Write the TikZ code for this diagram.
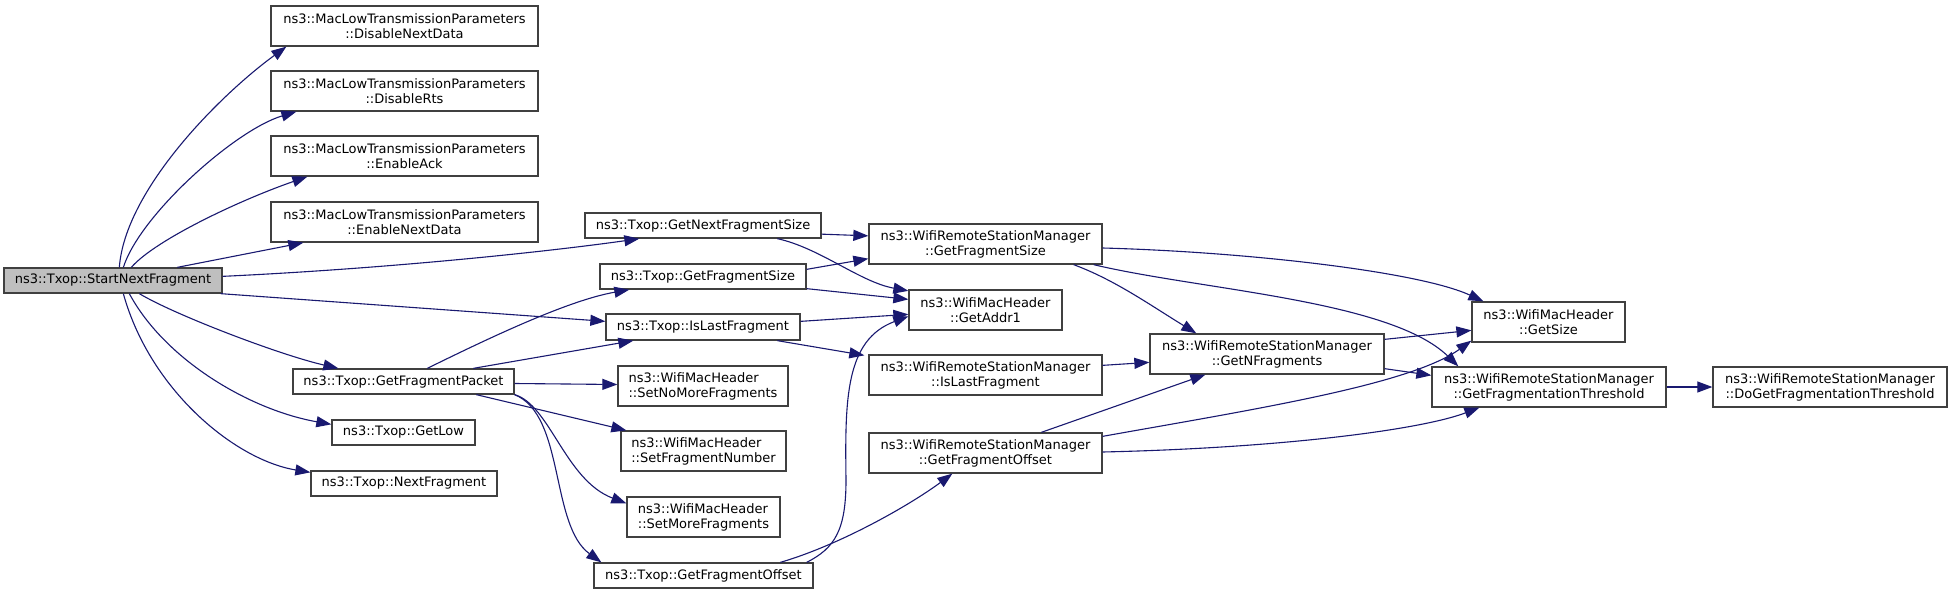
\documentclass[tikz,border=0pt]{standalone}
\usepackage{fontspec}
\setmainfont{DejaVu Sans}
\usetikzlibrary{arrows.meta,calc}
\definecolor{edgeblue}{HTML}{191970}
\definecolor{boxline}{HTML}{404040}
\definecolor{startfill}{HTML}{BFBFBF}
\tikzset{
  box/.style={draw=boxline, line width=1.3pt, fill=white, inner sep=0pt, align=center, font=\fontsize{13}{15}\selectfont},
  lbox/.style={box, align=left},
  call/.style={draw=edgeblue, line width=1.1pt, -{Triangle[length=15pt,width=11pt]}},
}
\begin{document}
\begin{tikzpicture}[x=1pt,y=-1pt]
\fill[white] (0,0) rectangle (1952,594);
\useasboundingbox (0,0) rectangle (1952,594);

% nodes
\node[box, fill=startfill, minimum width=218, minimum height=25] (snf) at (113,280.5) {ns3::Txop::StartNextFragment};
\node[box, minimum width=267, minimum height=40] (dnd) at (404.5,26) {ns3::MacLowTransmissionParameters\\::DisableNextData};
\node[box, minimum width=267, minimum height=40] (drts) at (404.5,91) {ns3::MacLowTransmissionParameters\\::DisableRts};
\node[box, minimum width=267, minimum height=40] (eack) at (404.5,156) {ns3::MacLowTransmissionParameters\\::EnableAck};
\node[box, minimum width=267, minimum height=40] (end) at (404.5,222) {ns3::MacLowTransmissionParameters\\::EnableNextData};
\node[box, minimum width=236, minimum height=25] (gnfs) at (703,225.5) {ns3::Txop::GetNextFragmentSize};
\node[box, minimum width=206, minimum height=25] (gfs) at (703,276.5) {ns3::Txop::GetFragmentSize};
\node[box, minimum width=194, minimum height=26] (ilf) at (703,327) {ns3::Txop::IsLastFragment};
\node[box, minimum width=221, minimum height=25] (gfp) at (403.5,381.5) {ns3::Txop::GetFragmentPacket};
\node[box, minimum width=143, minimum height=25] (glow) at (403.5,432.5) {ns3::Txop::GetLow};
\node[box, minimum width=186, minimum height=25] (nf) at (404,483.5) {ns3::Txop::NextFragment};
\node[lbox, minimum width=170, minimum height=40] (snmf) at (703,386) {ns3::WifiMacHeader\\::SetNoMoreFragments};
\node[lbox, minimum width=165, minimum height=40] (sfn) at (703.5,451) {ns3::WifiMacHeader\\::SetFragmentNumber};
\node[lbox, minimum width=153, minimum height=40] (smf) at (703.5,517) {ns3::WifiMacHeader\\::SetMoreFragments};
\node[box, minimum width=219, minimum height=25] (gfo) at (703.5,575.5) {ns3::Txop::GetFragmentOffset};
\node[box, minimum width=233, minimum height=40] (wgfs) at (985.5,244) {ns3::WifiRemoteStationManager\\::GetFragmentSize};
\node[box, minimum width=153, minimum height=40] (addr1) at (985.5,310) {ns3::WifiMacHeader\\::GetAddr1};
\node[box, minimum width=233, minimum height=40] (wilf) at (985.5,375) {ns3::WifiRemoteStationManager\\::IsLastFragment};
\node[box, minimum width=233, minimum height=40] (wgfo) at (985.5,453) {ns3::WifiRemoteStationManager\\::GetFragmentOffset};
\node[box, minimum width=234, minimum height=40] (gnf) at (1267,354) {ns3::WifiRemoteStationManager\\::GetNFragments};
\node[box, minimum width=153, minimum height=40] (gsize) at (1548.5,322) {ns3::WifiMacHeader\\::GetSize};
\node[box, minimum width=234, minimum height=40] (gft) at (1549,387) {ns3::WifiRemoteStationManager\\::GetFragmentationThreshold};
\node[box, minimum width=234, minimum height=40] (dgft) at (1830,387) {ns3::WifiRemoteStationManager\\::DoGetFragmentationThreshold};

% edges from StartNextFragment
\draw[call] ($(snf.north west)+(116,0)$) .. controls (125,190) and (220,95) .. ($(dnd.south west)+(16,0)$);
\draw[call] ($(snf.north west)+(120,0)$) .. controls (140,215) and (235,130) .. ($(drts.south west)+(26,0)$);
\draw[call] ($(snf.north west)+(128,0)$) .. controls (155,240) and (240,200) .. ($(eack.south west)+(37,0)$);
\draw[call] ($(snf.north west)+(174,0)$) -- ($(end.south west)+(33,0)$);
\draw[call] ($(snf.north east)+(0,9)$) .. controls (400,268) and (560,250) .. ($(gnfs.south west)+(55,0)$);
\draw[call] ($(snf.south east)+(-2,0)$) -- ($(ilf.north west)+(0,8)$);
\draw[call] ($(snf.south west)+(136,0)$) .. controls (175,315) and (280,355) .. ($(gfp.north west)+(46,0)$);
\draw[call] ($(snf.south west)+(126,0)$) .. controls (165,360) and (250,410) .. ($(glow.north west)+(0,5)$);
\draw[call] ($(snf.south west)+(120,0)$) .. controls (150,390) and (235,460) .. ($(nf.north west)+(0,2)$);

% edges from GetFragmentPacket
\draw[call] ($(gfp.north west)+(135,0)$) .. controls (495,335) and (570,300) .. ($(gfs.south west)+(30,0)$);
\draw[call] ($(gfp.north west)+(181,0)$) -- ($(ilf.south west)+(28,0)$);
\draw[call] ($(gfp.east)+(0,2)$) -- ($(snmf.west)+(0,-1.5)$);
\draw[call] ($(gfp.south west)+(184,0)$) -- ($(sfn.north west)+(6,0)$);
\draw[call] (gfp.south east) .. controls (550,405) and (565,480) .. ($(smf.north west)+(0,7)$);
\draw[call] (gfp.south east) .. controls (565,415) and (550,525) .. ($(gfo.north west)+(8,0)$);

% edges of the Txop helpers
\draw[call] ($(gnfs.south east)+(0,-4.5)$) -- ($(wgfs.north west)+(0,12.5)$);
\draw[call] ($(gnfs.south west)+(193,0)$) .. controls (820,248) and (860,282) .. ($(addr1.north west)+(0,1.5)$);
\draw[call] ($(gfs.north east)+(0,6)$) -- ($(wgfs.south west)+(0,-6)$);
\draw[call] ($(gfs.south east)+(0,-1)$) -- ($(addr1.north west)+(0,10)$);
\draw[call] ($(ilf.north east)+(0,8)$) -- ($(addr1.north west)+(0,25)$);
\draw[call] ($(ilf.south west)+(172,0)$) -- ($(wilf.north west)+(-4,1)$);
\draw[call] ($(gfo.north east)+(-7,0)$) .. controls (835,548) and (846,530) .. (846,480) .. controls (845,400) and (845,340) .. ($(addr1.north west)+(0,27)$);
\draw[call] ($(gfo.north west)+(187,0)$) .. controls (840,545) and (910,505) .. ($(wgfo.south west)+(84,0)$);

% edges of the station manager
\draw[call] ($(wgfs.east)+(0,4)$) .. controls (1250,252) and (1420,272) .. ($(gsize.north west)+(12,0)$);
\draw[call] ($(wgfs.south east)+(-9,0)$) .. controls (1200,290) and (1390,300) .. ($(gft.north west)+(27,0)$);
\draw[call] ($(wgfs.south east)+(-29,0)$) .. controls (1115,280) and (1150,305) .. ($(gnf.north west)+(47,0)$);
\draw[call] ($(wilf.north east)+(0,11)$) -- ($(gnf.north west)+(0,29)$);
\draw[call] ($(wgfo.north west)+(173,0)$) -- ($(gnf.south west)+(56,0)$);
\draw[call] ($(wgfo.north east)+(0,4)$) .. controls (1250,410) and (1410,385) .. ($(gsize.south west)+(0,-2)$);
\draw[call] ($(wgfo.east)+(0,-1)$) .. controls (1280,448) and (1420,430) .. ($(gft.south west)+(48,0)$);
\draw[call] ($(gnf.north east)+(0,6)$) -- ($(gsize.north west)+(0,29)$);
\draw[call] ($(gnf.south east)+(0,-6)$) -- ($(gft.north west)+(0,9)$);
\draw[call] (gft) -- (dgft);
\end{tikzpicture}
\end{document}
